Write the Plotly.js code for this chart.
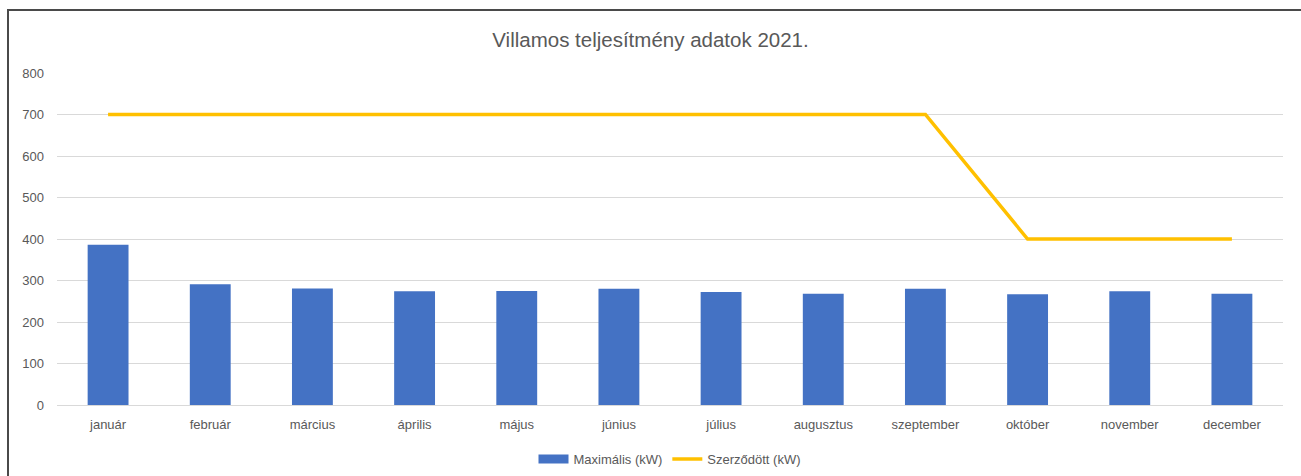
<!DOCTYPE html>
<html>
<head>
<meta charset="utf-8">
<script src="https://cdn.plot.ly/plotly-3.0.1.min.js"></script>
<style>
html,body{margin:0;padding:0;overflow:hidden;background:#fff;}
#frame{position:absolute;left:7px;top:9px;width:1400px;height:600px;border-top:2px solid #4a4a4a;border-left:2px solid #4a4a4a;}
#chart{position:absolute;left:0;top:0;width:1301px;height:476px;}
</style>
</head>
<body>
<div id="frame"></div>
<div id="chart"></div>
<script>
const months = ["január","február","március","április","május","június","július","augusztus","szeptember","október","november","december"];
const maxPower = [386, 291, 281, 274, 275, 280, 272, 268, 280, 267, 274, 268];
const contracted = [700, 700, 700, 700, 700, 700, 700, 700, 700, 400, 400, 400];
const yTicks = [0,100,200,300,400,500,600,700,800];
const seriesNames = ["Maximális (kW)", "Szerződött (kW)"];

const font = "Liberation Sans, Arial, sans-serif";
const traces = [
  {type:"bar", name:seriesNames[0], x:months, y:maxPower, marker:{color:"#4472C4"}, showlegend:false},
  {type:"scatter", mode:"lines", name:seriesNames[0], x:[null], y:[null], line:{color:"#4472C4", width:9}, showlegend:true, hoverinfo:"skip"},
  {type:"scatter", mode:"lines", name:seriesNames[1], x:months, y:contracted, line:{color:"#FFC000", width:3.5}}
];
const layout = {
  width:1301, height:476,
  paper_bgcolor:"rgba(0,0,0,0)", plot_bgcolor:"rgba(0,0,0,0)",
  margin:{l:57, r:18, t:73, b:71, autoexpand:false},
  bargap:0.6,
  title:{text:"Villamos teljesítmény adatok 2021.", x:0.5, xanchor:"center", y:1-40/476, yanchor:"middle", font:{family:font, size:20.5, color:"#595959"}},
  font:{family:font, size:13, color:"#595959"},
  xaxis:{type:"category", categoryarray:months, showgrid:false, zeroline:false, showline:false, ticks:"", ticklabelstandoff:10, tickfont:{size:13, color:"#595959"}},
  yaxis:{range:[0,800], tickvals:yTicks, showgrid:true, gridcolor:"#D9D9D9", gridwidth:1, zeroline:true, zerolinecolor:"#D9D9D9", zerolinewidth:1, showline:false, ticks:"", ticklabelstandoff:12, tickfont:{size:13, color:"#595959"}},
  showlegend:true,
  legend:{orientation:"h", x:0.5, xanchor:"center", y:-0.163, yanchor:"middle", font:{size:13, color:"#595959"}, traceorder:"normal"}
};
Plotly.newPlot("chart", traces, layout, {displayModeBar:false, staticPlot:true});
</script>
</body>
</html>
